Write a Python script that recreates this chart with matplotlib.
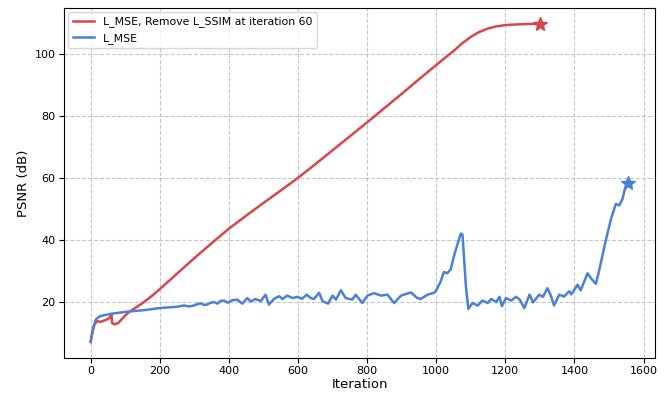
import matplotlib
matplotlib.use("Agg")
from matplotlib import pyplot as plt

# PSNR curves
red_iter = [0, 5, 10, 18, 28, 43, 55, 59, 60, 62, 70, 80, 90, 100, 115, 134, 150,
            175, 200, 250, 300, 350, 400, 450, 500, 550, 600, 650, 700, 750, 800,
            850, 900, 950, 1000, 1025, 1050, 1075, 1100, 1125, 1150, 1175, 1200,
            1250, 1300]
red_psnr = [7.1, 10.5, 12.5, 13.9, 13.6, 14.2, 14.9, 15.8, 16.0, 13.2, 12.8, 13.3,
            14.5, 15.7, 17.1, 18.5, 19.7, 21.8, 24.2, 29.2, 34.2, 39.0, 43.7, 47.9,
            52.0, 56.0, 60.1, 64.5, 69.0, 73.5, 78.0, 82.6, 87.2, 91.9, 96.5, 98.8,
            101.0, 103.5, 105.6, 107.2, 108.3, 109.0, 109.4, 109.7, 109.8]

blue_iter = [0, 5, 9, 16, 28, 57, 105, 154, 202, 250, 270, 285, 299, 310, 318, 328,
             337, 347, 357, 367, 376, 386, 396, 410, 424, 439, 453, 463, 477, 492,
             506, 516, 530, 545, 555, 569, 584, 598, 612, 625, 637, 646, 661, 671,
             687, 700, 710, 724, 738, 757, 767, 786, 801, 820, 840, 859, 878, 898,
             912, 927, 945, 955, 975, 994, 1000, 1013, 1022, 1032, 1042, 1051, 1061,
             1071, 1076, 1086, 1093, 1105, 1120, 1134, 1149, 1159, 1174, 1183, 1190,
             1202, 1217, 1231, 1241, 1255, 1270, 1280, 1298, 1309, 1322, 1332, 1341,
             1356, 1370, 1385, 1391, 1409, 1418, 1438, 1448, 1462, 1472, 1491, 1506,
             1520, 1530, 1539, 1546, 1556]
blue_psnr = [7.3, 10.5, 12.3, 14.6, 15.5, 16.2, 16.9, 17.4, 18.1, 18.5, 18.9, 18.6,
             18.9, 19.4, 19.6, 19.1, 19.2, 19.8, 20.0, 19.5, 20.4, 20.5, 19.8, 20.6,
             20.8, 19.5, 21.3, 20.2, 21.0, 20.3, 22.4, 19.2, 21.0, 21.9, 21.0, 22.1,
             21.3, 21.7, 21.1, 22.4, 21.3, 21.0, 23.0, 20.3, 19.5, 22.1, 20.8, 23.8,
             21.3, 20.8, 22.4, 19.7, 22.1, 22.9, 22.1, 22.4, 19.7, 22.1, 22.6, 23.1,
             21.3, 21.0, 22.4, 23.0, 23.8, 26.7, 29.7, 29.3, 30.6, 34.7, 38.5, 42.1,
             41.8, 25.0, 17.8, 19.7, 18.9, 20.5, 19.7, 21.0, 20.0, 21.7, 18.7, 21.3,
             20.5, 21.7, 20.9, 18.1, 22.4, 19.9, 22.4, 21.7, 24.5, 22.0, 18.9, 22.4,
             21.8, 23.5, 22.5, 25.6, 23.8, 29.3, 27.7, 25.9, 30.4, 40.0, 46.9, 51.7,
             51.2, 53.3, 56.5, 58.3]

red = '#d9464a'
blue = '#4a80d9'

fig, ax = plt.subplots(figsize=(6.72, 3.96), dpi=100)
fig.subplots_adjust(left=0.095, right=0.975, bottom=0.096, top=0.98)

ax.plot(red_iter, red_psnr, color=red, lw=1.8,
        label='L_MSE, Remove L_SSIM at iteration 60')
ax.plot(blue_iter, blue_psnr, color=blue, lw=1.8, label='L_MSE')
ax.plot(red_iter[-1], red_psnr[-1], marker='*', color=red, ms=10)
ax.plot(blue_iter[-1], blue_psnr[-1], marker='*', color=blue, ms=10)

ax.set_xlabel('Iteration', fontsize=9.5, labelpad=1)
ax.set_ylabel('PSNR (dB)', fontsize=9.5, labelpad=3)
ax.tick_params(labelsize=8, pad=2.5)
ax.set_yticks([20, 40, 60, 80, 100])
ax.grid(True, linestyle='--', color='#b0b0b0', alpha=0.7, lw=0.8)
ax.legend(loc='upper left', fontsize=7.8, borderaxespad=0.4)

plt.savefig('out.png')
